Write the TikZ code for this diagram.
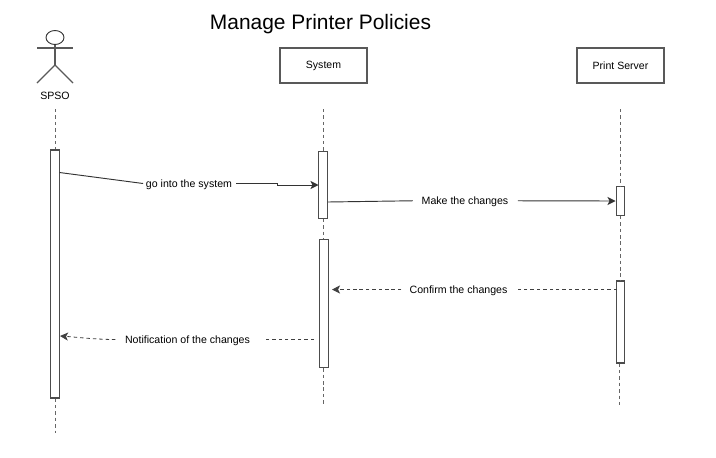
\documentclass[tikz,border=0pt]{standalone}
\usepackage{fontspec}
\setmainfont{Liberation Sans}
\usetikzlibrary{arrows.meta,calc,shapes.geometric}
\tikzset{
  x=0.75pt,y=-0.75pt,
  box/.style={draw=black!65,line width=0.9pt,fill=white,minimum width=65.25pt,minimum height=26.25pt,inner sep=0pt,font=\fontsize{7.9pt}{10pt}\selectfont},
  bar/.style={draw=black!70,line width=0.8pt,fill=white,minimum width=6.4pt,inner sep=0pt},
  life/.style={draw=black!60,line width=0.75pt,dash pattern=on 2.6pt off 2.2pt},
  msg/.style={draw=black!80,line width=0.7pt,-{Stealth[length=6pt,width=6pt,inset=1.5pt]}},
  ret/.style={draw=black!75,line width=0.6pt,dash pattern=on 2.6pt off 2.2pt,-{Stealth[length=6pt,width=6pt,inset=1.5pt]}},
  line/.style={draw=black!80,line width=0.7pt},
  retline/.style={draw=black!75,line width=0.6pt,dash pattern=on 2.6pt off 2.2pt},
  lbl/.style={inner sep=0pt,font=\fontsize{7.95pt}{10pt}\selectfont},
  stick/.style={draw=black!65,line width=0.8pt}
}
\begin{document}
\begin{tikzpicture}
\useasboundingbox (0,0) rectangle (716,457);
\node[inner sep=0pt,font=\fontsize{15.7pt}{18pt}\selectfont] (title) at (320.5,24.5) {Manage Printer Policies};

% actor
\node[draw=black!80,line width=0.7pt,ellipse,minimum width=13.5pt,minimum height=10.5pt,inner sep=0pt] (head) at (55,37.5) {};
\coordinate (hip) at (55,65);
\coordinate (armL) at (37,48);
\coordinate (armR) at (73,48);
\coordinate (legL) at (37,83);
\coordinate (legR) at (73,83);
\draw[stick] (head.south) -- (hip);
\draw[stick] (armL) -- (armR);
\draw[stick] (legL) -- (hip) -- (legR);
\node[lbl] (spso) at (55,96) {SPSO};

% boxes
\node[box] (system) at (323.5,65.5) {\raisebox{-0.6pt}{System}};
\node[box] (printer) at (620.5,65.5) {Print Server};

% lifeline end points
\coordinate (s0) at (55,109);
\coordinate (s1) at (55,433);
\coordinate (y0) at (323,109);
\coordinate (y1) at (323,405);
\coordinate (p0) at (620.3,109);
\coordinate (p1) at (619.5,407);

% activations
\node[bar,minimum height=186pt] (aS) at (55,274) {};
\node[bar,minimum height=50pt] (aY1) at (323,185) {};
\node[bar,minimum height=96.3pt] (aY2) at (324,303.5) {};
\node[bar,minimum height=21.5pt] (aP1) at (620.3,201) {};
\node[bar,minimum height=61.5pt] (aP2) at (620.3,322) {};

% lifelines
\draw[life] (s0) -- (s0 |- aS.north);
\draw[life] (s0 |- aS.south) -- (s1);
\draw[life] (y0) -- (y0 |- aY1.north);
\draw[life] (y0 |- aY1.south) -- (y0 |- aY2.north);
\draw[life] (y0 |- aY2.south) -- (y1);
\draw[life] (p0) -- (aP1.north);
\draw[life] (aP1.south) -- (aP2.north);
\draw[life] (p1 |- aP2.south) -- (p1);

% labels
\node[lbl] (l1) at (189,184.7) {go into the system};
\node[lbl] (l2) at (465,201.7) {Make the changes};
\node[lbl] (l3) at (458.5,290.7) {Confirm the changes};
\node[lbl] (l4) at (187.5,340.7) {Notification of the changes};

% message free ends
\coordinate (m1a) at (59.5,172.5);
\coordinate (m1b) at (277,183.5);
\coordinate (m1c) at (277,185);
\coordinate (m1d) at (318.5,185);
\coordinate (m2a) at (328,202);
\coordinate (m2b) at (615.5,201);
\coordinate (m3a) at (617,289.5);
\coordinate (m3b) at (332,289.5);
\coordinate (m4a) at (314,339.5);
\coordinate (m4b) at (60,336);

\draw[line] (m1a) -- ([xshift=-2pt,yshift=0.9pt]l1.west);
\draw[msg] ([xshift=3pt,yshift=0.9pt]l1.east) -- (m1b) -- (m1c) -- (m1d);
\draw[line] (m2a) -- ([xshift=-6.5pt,yshift=0.7pt]l2.west);
\draw[msg] ([xshift=7pt,yshift=0.7pt]l2.east) -- (m2b);
\draw[retline] (m3a) -- ([xshift=6pt,yshift=0.9pt]l3.east);
\draw[ret] ([xshift=-6pt,yshift=0.9pt]l3.west) -- (m3b);
\draw[retline] (m4a) -- ([xshift=10pt,yshift=0.9pt]l4.east);
\draw[ret] ([xshift=-7pt,yshift=0.9pt]l4.west) .. controls (95,339.5) and (75,337) .. (m4b);
\end{tikzpicture}
\end{document}
